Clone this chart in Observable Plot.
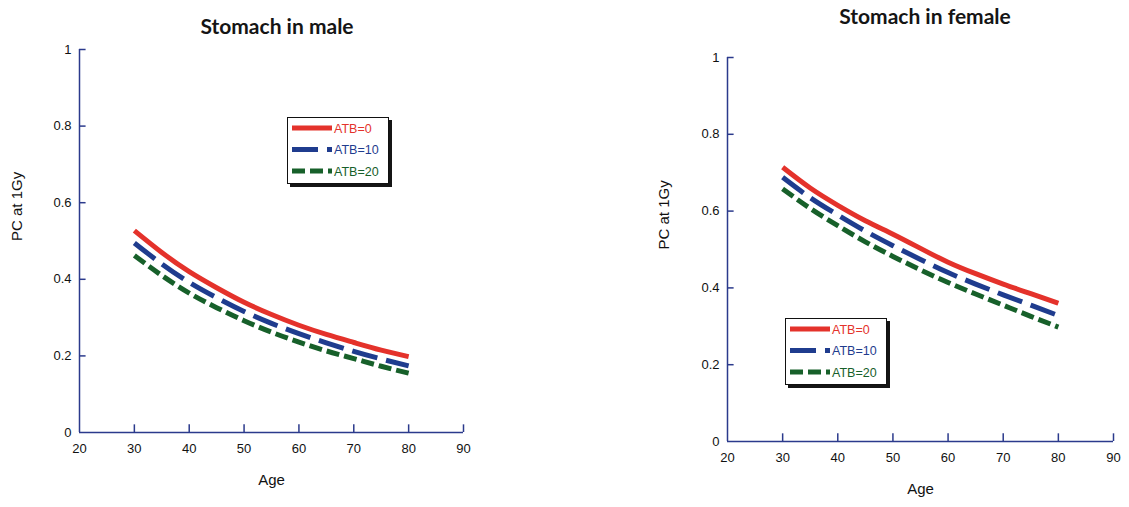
<!DOCTYPE html>
<html><head><meta charset="utf-8">
<script src="https://cdn.jsdelivr.net/npm/d3@7"></script>
<script src="https://cdn.jsdelivr.net/npm/@observablehq/plot@0.6"></script>
<style>
html,body{margin:0;padding:0;background:#fff;}
#wrap{position:relative;width:1129px;height:507px;overflow:hidden;background:#fff;}
.panel{position:absolute;top:0;}
.title{position:absolute;font-family:Lato,"Open Sans",sans-serif;font-weight:700;font-size:21px;color:#151515;white-space:nowrap;transform:translateX(-50%);line-height:1;}
.legend{position:absolute;background:#fff;border:1.5px solid #111;box-shadow:3px 3px 0 #151515;}
.legend svg{display:block;}
</style>
</head><body>
<div id="wrap"></div>
<script>
// ---- data ----
const ages = [30, 35, 40, 45, 50, 55, 60, 65, 70, 75, 80];
const seriesNames = ["ATB=0", "ATB=10", "ATB=20"];
const maleATB0  = [0.527, 0.470, 0.420, 0.378, 0.340, 0.308, 0.280, 0.256, 0.235, 0.215, 0.198];
const maleATB10 = [0.495, 0.440, 0.392, 0.352, 0.316, 0.285, 0.258, 0.234, 0.212, 0.192, 0.174];
const maleATB20 = [0.462, 0.410, 0.364, 0.326, 0.292, 0.262, 0.236, 0.213, 0.193, 0.173, 0.155];
const femaleATB0  = [0.714, 0.660, 0.615, 0.575, 0.540, 0.503, 0.467, 0.437, 0.410, 0.385, 0.360];
const femaleATB10 = [0.688, 0.635, 0.590, 0.548, 0.510, 0.474, 0.440, 0.410, 0.382, 0.355, 0.328];
const femaleATB20 = [0.658, 0.607, 0.562, 0.520, 0.482, 0.447, 0.414, 0.384, 0.355, 0.326, 0.298];
const xTicks = [20, 30, 40, 50, 60, 70, 80, 90];
const yTicks = [0, 0.2, 0.4, 0.6, 0.8, 1];
const yTickLabels = ["0", "0.2", "0.4", "0.6", "0.8", "1"];
const titles = ["Stomach in male", "Stomach in female"];
const xLabel = "Age";
const yLabel = "PC at 1Gy";

// ---- styles ----
const colors = ["#e4322b", "#1f3c8e", "#17602a"];
const dashes = [null, "26,9", "13,5"];
const axisColor = "#2b3a8c";
const FONT = "'Liberation Sans', Arial, sans-serif";

function toRows(vals) { return ages.map((a, i) => ({age: a, v: vals[i]})); }

function makePanel(seriesVals, cfg) {
  const marks = [
    Plot.ruleY([0], {x1: 20, x2: 90, stroke: axisColor, strokeWidth: 1.5}),
    Plot.ruleX([20], {y1: 0, y2: 1, stroke: axisColor, strokeWidth: 1.5}),
    Plot.ruleX(xTicks.slice(1), {x: d => d, y1: 0, y2: 0.02, stroke: axisColor, strokeWidth: 1.5}),
    Plot.ruleY(yTicks.slice(1), {y: d => d, x1: 20, x2: 21.2, stroke: axisColor, strokeWidth: 1.5}),
    Plot.axisX(xTicks, {tickSize: 0, tickPadding: 11, fontSize: 13, label: null}),
    Plot.axisY(yTicks, {tickSize: 0, tickPadding: 8, fontSize: 13, tickFormat: (d, i) => yTickLabels[i], label: null}),
    Plot.text([xLabel], {frameAnchor: "bottom", dy: cfg.xLabelDy, fontSize: 15, fill: "#111"}),
    Plot.text([yLabel], {frameAnchor: "left", dx: -cfg.yLabelDx, rotate: -90, fontSize: 15, fill: "#111"})
  ];
  seriesVals.forEach((vals, i) => {
    marks.push(Plot.line(toRows(vals), {x: "age", y: "v", stroke: colors[i], strokeWidth: 5,
      strokeDasharray: dashes[i] || undefined, strokeLinecap: "butt", curve: "natural"}));
  });
  return Plot.plot({
    width: cfg.width, height: 507,
    marginLeft: cfg.ml, marginRight: cfg.mr, marginTop: cfg.mt, marginBottom: cfg.mb,
    x: {domain: [20, 90], axis: null},
    y: {domain: [0, 1], axis: null},
    style: {fontFamily: FONT, fontSize: "13px", color: "#111", background: "transparent"},
    marks
  });
}

function makeLegend(left, top) {
  const div = document.createElement("div");
  div.className = "legend";
  div.style.left = left + "px";
  div.style.top = top + "px";
  const w = 100, h = 65;
  const ns = "http://www.w3.org/2000/svg";
  const svg = document.createElementNS(ns, "svg");
  svg.setAttribute("width", w); svg.setAttribute("height", h);
  seriesNames.forEach((name, i) => {
    const y = 10 + i * 21.5;
    const ln = document.createElementNS(ns, "line");
    ln.setAttribute("x1", 4); ln.setAttribute("x2", 44);
    ln.setAttribute("y1", y); ln.setAttribute("y2", y);
    ln.setAttribute("stroke", colors[i]); ln.setAttribute("stroke-width", 5);
    if (dashes[i]) ln.setAttribute("stroke-dasharray", dashes[i]);
    svg.appendChild(ln);
    const t = document.createElementNS(ns, "text");
    t.setAttribute("x", 46); t.setAttribute("y", y + 4.5);
    t.setAttribute("fill", colors[i]);
    t.setAttribute("font-family", FONT);
    t.setAttribute("font-size", "12.5");
    t.textContent = name;
    svg.appendChild(t);
  });
  div.appendChild(svg);
  return div;
}

function makeTitle(text, cx, top) {
  const d = document.createElement("div");
  d.className = "title";
  d.style.left = cx + "px";
  d.style.top = top + "px";
  d.textContent = text;
  return d;
}

const wrap = document.getElementById("wrap");

const left = document.createElement("div");
left.className = "panel"; left.style.left = "0px";
left.appendChild(makePanel([maleATB0, maleATB10, maleATB20],
  {width: 480, ml: 79, mr: 17, mt: 49, mb: 75, xLabelDy: 52, yLabelDx: 62}));
wrap.appendChild(left);

const right = document.createElement("div");
right.className = "panel"; right.style.left = "640px";
right.appendChild(makePanel([femaleATB0, femaleATB10, femaleATB20],
  {width: 489, ml: 87, mr: 16, mt: 57, mb: 66, xLabelDy: 52, yLabelDx: 63}));
wrap.appendChild(right);

wrap.appendChild(makeTitle(titles[0], 277, 15));
wrap.appendChild(makeTitle(titles[1], 925, 5));
wrap.appendChild(makeLegend(287, 117));
wrap.appendChild(makeLegend(785, 318));
</script>
</body></html>
